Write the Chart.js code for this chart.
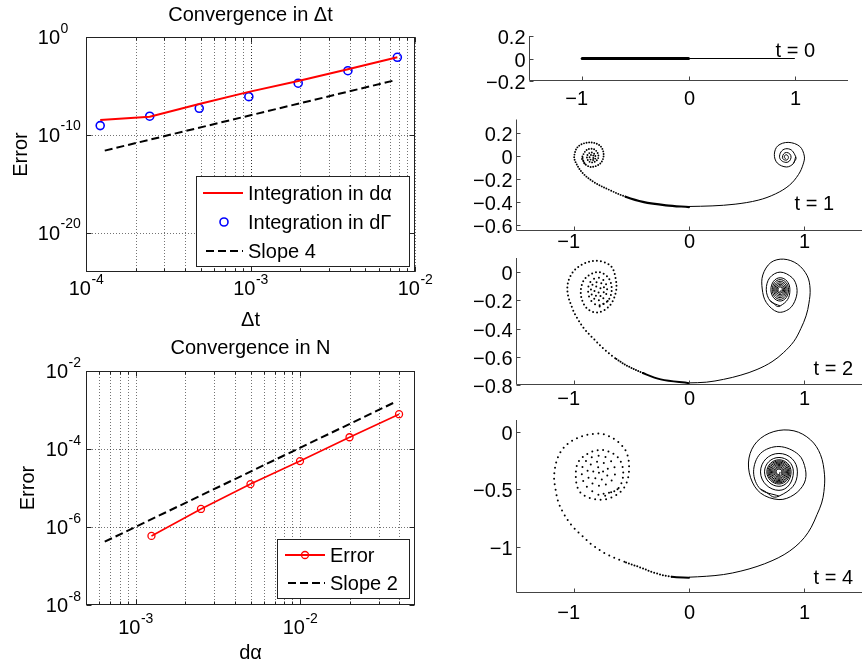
<!DOCTYPE html>
<html>
<head>
<meta charset="utf-8">
<script src="https://cdn.jsdelivr.net/npm/chart.js@4.4.1/dist/chart.umd.min.js"></script>
<style>
  body { margin: 0; background: #fff; }
  #page { position: relative; width: 862px; height: 667px; overflow: hidden; }
  #page canvas { position: absolute; left: 0; top: 0; }
</style>
</head>
<body>
<div id="page">
  <canvas id="cDt" width="862" height="667"></canvas>
  <canvas id="cN" width="862" height="667"></canvas>
  <canvas id="cT0" width="862" height="667"></canvas>
  <canvas id="cT1" width="862" height="667"></canvas>
  <canvas id="cT2" width="862" height="667"></canvas>
  <canvas id="cT4" width="862" height="667"></canvas>
</div>
<script>
// ── data: convergence in Δt ──────────────────────────────────────────────────
const dtSteps  = [1.22e-4, 2.44e-4, 4.88e-4, 9.77e-4, 1.95e-3, 3.91e-3, 7.81e-3];
const errAlpha = [3.4e-9, 7.1e-9, 1.45e-7, 2.5e-6, 3.2e-5, 5.0e-4, 8.5e-3];
const errGamma = [8.9e-10, 8.1e-9, 5.2e-8, 8.1e-7, 1.9e-5, 3.6e-4, 8.5e-3];
const slope4X  = [1.3e-4, 7.4e-3];
const slope4Y  = [2.5e-12, 3.5e-5];

const dtGridX   = [2e-4, 3e-4, 4e-4, 5e-4, 6e-4, 7e-4, 8e-4, 9e-4, 1e-3,
                   2e-3, 3e-3, 4e-3, 5e-3, 6e-3, 7e-3, 8e-3, 9e-3];
const dtGridY   = [1e-20, 1e-10];
const dtMajorX  = [1e-4, 1e-3, 1e-2];
const dtExpX    = ['-4', '-3', '-2'];
const dtMajorY  = [1, 1e-10, 1e-20];
const dtExpY    = ['0', '-10', '-20'];

// ── data: convergence in N ───────────────────────────────────────────────────
const dAlpha   = [1.25e-3, 2.5e-3, 5e-3, 1e-2, 2e-2, 4e-2];
const errN     = [5.9e-7, 2.9e-6, 1.26e-5, 4.9e-5, 2.0e-4, 7.8e-4];
const slope2X  = [6.5e-4, 3.73e-2];
const slope2Y  = [4.2e-7, 1.55e-3];

const nGridX   = [6e-4, 7e-4, 8e-4, 9e-4, 1e-3, 2e-3, 3e-3, 4e-3, 5e-3, 6e-3,
                  7e-3, 8e-3, 9e-3, 1e-2, 2e-2, 3e-2, 4e-2];
const nGridY   = [1e-6, 1e-4];
const nMajorX  = [1e-3, 1e-2];
const nExpX    = ['-3', '-2'];
const nMajorY  = [1e-8, 1e-6, 1e-4, 1e-2];
const nExpY    = ['-8', '-6', '-4', '-2'];

// ── data: sheet shapes (left half dotted, right half solid) ──────────────────
// "outer" = tail plus first loops, "core" = tight inner turns
const sheetL0 = [[-1, 0], [0, 0]];
const sheetR0 = [[0, 0], [1, 0]];

const sheetL1Outer = [[0, -0.445], [-0.2, -0.43], [-0.4, -0.40], [-0.55, -0.355],
  [-0.68, -0.30], [-0.82, -0.23], [-0.92, -0.15], [-0.98, -0.06], [-0.995, 0.0],
  [-0.96, 0.085], [-0.86, 0.12], [-0.77, 0.09], [-0.74, 0.015], [-0.765, -0.06],
  [-0.845, -0.095], [-0.905, -0.065], [-0.925, -0.005]];
const sheetL1Core = [[-0.905, -0.065], [-0.925, -0.005], [-0.85, 0.065], [-0.785, 0.0],
  [-0.84, -0.055], [-0.885, -0.01], [-0.845, 0.032], [-0.81, -0.01], [-0.84, -0.035],
  [-0.862, -0.012], [-0.842, 0.012], [-0.826, -0.01], [-0.84, -0.022]];
const sheetR1Outer = [[0, -0.44], [0.2, -0.435], [0.4, -0.42], [0.6, -0.385],
  [0.75, -0.33], [0.87, -0.255], [0.95, -0.16], [0.99, -0.07], [1.0, 0.0],
  [0.96, 0.085], [0.86, 0.12], [0.77, 0.09], [0.74, 0.015], [0.765, -0.06],
  [0.845, -0.095], [0.905, -0.065], [0.925, -0.005]];
const sheetR1Core = [[0.905, -0.065], [0.925, -0.005], [0.85, 0.065], [0.785, 0.0],
  [0.84, -0.055], [0.885, -0.01], [0.845, 0.032], [0.81, -0.01], [0.84, -0.035],
  [0.862, -0.012], [0.842, 0.012], [0.826, -0.01], [0.84, -0.022]];

const sheetL2Outer = [[0, -0.787], [-0.245, -0.76], [-0.4, -0.715], [-0.533, -0.665],
  [-0.64, -0.61], [-0.736, -0.546], [-0.83, -0.47], [-0.91, -0.40], [-0.97, -0.325],
  [-1.01, -0.26], [-1.053, -0.145], [-1.04, -0.05], [-0.966, 0.033], [-0.82, 0.08],
  [-0.68, 0.045], [-0.635, -0.05], [-0.635, -0.145], [-0.69, -0.24], [-0.79, -0.286],
  [-0.88, -0.26], [-0.93, -0.19], [-0.935, -0.11], [-0.895, -0.04], [-0.79, 0.0],
  [-0.7, -0.04], [-0.67, -0.125], [-0.705, -0.205], [-0.79, -0.24]];
const sheetL2Core = [[-0.705, -0.205], [-0.79, -0.24], [-0.875, -0.125], [-0.79, -0.04],
  [-0.71, -0.125], [-0.79, -0.2], [-0.85, -0.125], [-0.79, -0.07], [-0.735, -0.125],
  [-0.79, -0.175], [-0.82, -0.125], [-0.79, -0.1], [-0.765, -0.125], [-0.79, -0.145],
  [-0.79, -0.125]];
const sheetR2Outer = [[0, -0.785], [0.15, -0.78], [0.3, -0.76], [0.45, -0.73],
  [0.59, -0.69], [0.72, -0.635], [0.82, -0.57], [0.91, -0.49], [0.97, -0.40],
  [1.015, -0.31], [1.04, -0.22], [1.05, -0.12], [1.025, -0.026], [0.94, 0.057],
  [0.82, 0.092], [0.71, 0.068], [0.64, -0.02], [0.635, -0.12], [0.67, -0.215],
  [0.77, -0.283], [0.87, -0.26], [0.925, -0.19], [0.935, -0.11], [0.895, -0.04],
  [0.79, 0.0], [0.7, -0.04], [0.67, -0.125], [0.705, -0.205], [0.79, -0.24]];
const sheetR2Core = [[0.705, -0.205], [0.79, -0.24], [0.875, -0.125], [0.79, -0.04],
  [0.71, -0.125], [0.79, -0.205], [0.863, -0.125], [0.79, -0.053], [0.722, -0.125],
  [0.79, -0.193], [0.851, -0.125], [0.79, -0.065], [0.734, -0.125], [0.79, -0.181],
  [0.84, -0.125], [0.79, -0.076], [0.744, -0.125], [0.79, -0.17], [0.83, -0.125],
  [0.79, -0.086], [0.754, -0.125], [0.79, -0.16], [0.82, -0.125], [0.79, -0.096],
  [0.763, -0.125], [0.79, -0.15], [0.81, -0.125], [0.79, -0.105], [0.772, -0.125],
  [0.79, -0.142], [0.8, -0.125]];

const sheetL4Outer = [[0, -1.268], [-0.15, -1.26], [-0.3, -1.225], [-0.418, -1.18],
  [-0.56, -1.13], [-0.707, -1.067], [-0.83, -0.99], [-0.938, -0.894], [-1.02, -0.81],
  [-1.082, -0.72], [-1.13, -0.62], [-1.154, -0.519], [-1.169, -0.375], [-1.126, -0.2],
  [-1.024, -0.087], [-0.851, -0.023], [-0.707, -0.034], [-0.563, -0.144], [-0.52, -0.288],
  [-0.548, -0.461], [-0.649, -0.562], [-0.793, -0.59], [-0.938, -0.533], [-0.981, -0.403],
  [-0.95, -0.25], [-0.78, -0.16], [-0.62, -0.22], [-0.57, -0.36], [-0.62, -0.5],
  [-0.78, -0.55]];
const sheetL4Core = [[-0.62, -0.5], [-0.78, -0.55], [-0.93, -0.35], [-0.78, -0.21],
  [-0.64, -0.35], [-0.78, -0.47], [-0.88, -0.35], [-0.78, -0.26], [-0.7, -0.35],
  [-0.78, -0.42], [-0.83, -0.35], [-0.78, -0.31], [-0.745, -0.35], [-0.78, -0.37],
  [-0.78, -0.35]];
const sheetR4Outer = [[0, -1.263], [0.15, -1.255], [0.3, -1.24], [0.45, -1.21],
  [0.59, -1.17], [0.72, -1.12], [0.825, -1.067], [0.92, -1.0], [1.0, -0.92],
  [1.06, -0.83], [1.11, -0.72], [1.15, -0.62], [1.17, -0.52], [1.175, -0.375],
  [1.14, -0.2], [1.054, -0.072], [0.91, 0.006], [0.736, 0.0], [0.59, -0.087],
  [0.52, -0.23], [0.534, -0.40], [0.62, -0.533], [0.78, -0.59], [0.91, -0.548],
  [1.0, -0.446], [1.01, -0.33], [0.95, -0.2], [0.78, -0.13], [0.62, -0.19],
  [0.56, -0.35], [0.62, -0.5], [0.78, -0.56]];
const sheetR4Core = [[0.62, -0.5], [0.78, -0.56], [0.94, -0.35], [0.78, -0.19],
  [0.62, -0.35], [0.78, -0.51], [0.905, -0.35], [0.78, -0.225], [0.655, -0.35],
  [0.78, -0.475], [0.885, -0.35], [0.78, -0.245], [0.675, -0.35], [0.78, -0.455],
  [0.875, -0.35], [0.78, -0.255], [0.685, -0.35], [0.78, -0.445],
  [0.865, -0.35], [0.78, -0.265], [0.695, -0.35], [0.78, -0.435],
  [0.855, -0.35], [0.78, -0.275], [0.705, -0.35], [0.78, -0.425],
  [0.845, -0.35], [0.78, -0.285], [0.715, -0.35], [0.78, -0.415],
  [0.835, -0.35], [0.78, -0.295], [0.725, -0.35], [0.78, -0.405],
  [0.825, -0.35], [0.78, -0.305], [0.735, -0.35], [0.78, -0.395],
  [0.815, -0.35], [0.78, -0.315], [0.745, -0.35], [0.78, -0.385],
  [0.805, -0.35], [0.78, -0.325], [0.755, -0.35], [0.78, -0.375],
  [0.79, -0.35]];

const sheetXTicks = [-1, 0, 1];

// ── helpers ──────────────────────────────────────────────────────────────────
const FONT = '"Liberation Sans", Arial, Helvetica, sans-serif';
const W = 862, H = 667;

// text whose cap height is centred on y
function label(ctx, s, x, y, size, align = 'center') {
  ctx.font = `${size}px ${FONT}`;
  ctx.textAlign = align;
  ctx.textBaseline = 'alphabetic';
  ctx.fillStyle = '#000';
  ctx.fillText(s, x, y + size * 0.36);
}

// "10" with a raised exponent; 'center' centres the whole, 'base' puts the 10's right edge at x
function pow10(ctx, exp, x, y, align) {
  ctx.font = `20px ${FONT}`;
  const wb = ctx.measureText('10').width;
  ctx.font = `14px ${FONT}`;
  const we = ctx.measureText(exp).width;
  const x0 = align === 'center' ? x - (wb + we) / 2 : x - wb;
  label(ctx, '10', x0, y, 20, 'left');
  label(ctx, exp, x0 + wb + 0.5, y - 9.5, 14, 'left');
}

// centre the digits on x and let a leading minus hang out to the left
function tickNum(ctx, s, x, y) {
  ctx.font = `20px ${FONT}`;
  const wb = ctx.measureText(s.replace('−', '')).width;
  label(ctx, s, x + wb / 2, y, 20, 'right');
}

function seg(ctx, x1, y1, x2, y2) {
  ctx.beginPath();
  ctx.moveTo(x1, y1);
  ctx.lineTo(x2, y2);
  ctx.stroke();
}

function pad(area) {
  return { left: area.l, top: area.t, right: W - area.r, bottom: H - area.b };
}

function xy(xs, ys) {
  return xs.map((x, i) => ({ x, y: ys[i] }));
}

function baseOptions(area, xr, yr, type) {
  return {
    responsive: false,
    animation: false,
    devicePixelRatio: 1,
    events: [],
    layout: { padding: pad(area) },
    plugins: { legend: { display: false }, tooltip: { enabled: false } },
    scales: {
      x: { type, min: xr[0], max: xr[1], display: false },
      y: { type, min: yr[0], max: yr[1], display: false },
    },
  };
}

// ── log-log panels ───────────────────────────────────────────────────────────
function logFrame(cfg) {
  return {
    id: 'logFrame',
    beforeDatasetsDraw(chart) {
      const { ctx, chartArea: a, scales: { x, y } } = chart;
      ctx.save();
      ctx.strokeStyle = 'rgba(0,0,0,0.55)';
      ctx.lineWidth = 1;
      ctx.setLineDash([1, 2]);
      cfg.gridX.forEach((v) => {
        const px = Math.round(x.getPixelForValue(v)) + 0.5;
        seg(ctx, px, a.top, px, a.bottom);
      });
      cfg.gridY.forEach((v) => {
        const py = Math.round(y.getPixelForValue(v)) + 0.5;
        seg(ctx, a.left, py, a.right, py);
      });
      ctx.restore();
    },
    afterDatasetsDraw(chart) {
      const { ctx, chartArea: a, scales: { x, y } } = chart;
      ctx.save();
      ctx.strokeStyle = '#222';
      ctx.lineWidth = 1;
      const L = Math.round(a.left) + 0.5, R = Math.round(a.right) - 0.5;
      const T = Math.round(a.top) + 0.5, B = Math.round(a.bottom) - 0.5;
      ctx.strokeRect(L, T, R - L, B - T);

      // inward ticks
      cfg.gridX.forEach((v) => {
        const px = Math.round(x.getPixelForValue(v)) + 0.5;
        const len = cfg.majorX.includes(v) ? 5 : 3;
        seg(ctx, px, B, px, B - len);
        seg(ctx, px, T, px, T + len);
      });
      cfg.majorY.forEach((v) => {
        const py = Math.round(y.getPixelForValue(v)) + 0.5;
        seg(ctx, L, py, L + 5, py);
        seg(ctx, R, py, R - 5, py);
      });

      // tick labels
      cfg.majorX.forEach((v, i) => pow10(ctx, cfg.expX[i], x.getPixelForValue(v), cfg.xLabelY, 'center'));
      cfg.majorY.forEach((v, i) => pow10(ctx, cfg.expY[i], cfg.yBaseRight, y.getPixelForValue(v), 'base'));

      // title and axis names
      const cx = (a.left + a.right) / 2;
      label(ctx, cfg.title, cx, cfg.titleY, 20);
      label(ctx, cfg.xName, cx, cfg.xNameY, 20);
      ctx.save();
      ctx.translate(cfg.yNameX, (a.top + a.bottom) / 2);
      ctx.rotate(-Math.PI / 2);
      label(ctx, 'Error', 0, 0, 20);
      ctx.restore();

      // legend
      const lg = cfg.legend;
      ctx.fillStyle = '#fff';
      ctx.fillRect(lg.l, lg.t, lg.r - lg.l, lg.b - lg.t);
      ctx.strokeStyle = '#222';
      ctx.strokeRect(lg.l + 0.5, lg.t + 0.5, lg.r - lg.l, lg.b - lg.t);
      lg.items.forEach((it) => {
        if (it.line) {
          ctx.save();
          ctx.strokeStyle = it.color;
          ctx.lineWidth = 2;
          ctx.setLineDash(it.dash || []);
          seg(ctx, it.x1, it.y, it.x2, it.y);
          ctx.restore();
        }
        if (it.marker) {
          ctx.save();
          ctx.strokeStyle = it.color;
          ctx.lineWidth = it.markerWidth;
          ctx.beginPath();
          ctx.arc(it.mx, it.y, it.r, 0, Math.PI * 2);
          ctx.stroke();
          ctx.restore();
        }
        label(ctx, it.text, lg.textX, it.y, 20, 'left');
      });
      ctx.restore();
    },
  };
}

function renderDtChart() {
  new Chart(document.getElementById('cDt'), {
    type: 'line',
    data: {
      datasets: [
        { data: xy(dtSteps, errAlpha), borderColor: '#ff0000', borderWidth: 2, pointRadius: 0 },
        { data: xy(dtSteps, errGamma), showLine: false, pointRadius: 4, pointBorderWidth: 1.6,
          pointBorderColor: '#0000ff', pointBackgroundColor: 'rgba(0,0,0,0)' },
        { data: xy(slope4X, slope4Y), borderColor: '#000', borderWidth: 2, borderDash: [8, 4], pointRadius: 0 },
      ],
    },
    options: baseOptions({ l: 86, t: 37, r: 415, b: 272 }, [1e-4, 1e-2], [1e-24, 1], 'logarithmic'),
    plugins: [logFrame({
      gridX: dtGridX.concat(dtMajorX), gridY: dtGridY,
      majorX: dtMajorX, expX: dtExpX, majorY: dtMajorY, expY: dtExpY,
      xLabelY: 288, yBaseRight: 60,
      title: 'Convergence in Δt', titleY: 14,
      xName: 'Δt', xNameY: 319, yNameX: 20,
      legend: {
        l: 196, t: 176, r: 409, b: 266, textX: 248,
        items: [
          { text: 'Integration in dα', y: 193, line: true, color: '#ff0000', x1: 203, x2: 243 },
          { text: 'Integration in dΓ', y: 222, marker: true, color: '#0000ff', mx: 224, r: 4, markerWidth: 1.6 },
          { text: 'Slope 4', y: 251, line: true, color: '#000', dash: [8, 4], x1: 206, x2: 243 },
        ],
      },
    })],
  });
}

function renderNChart() {
  new Chart(document.getElementById('cN'), {
    type: 'line',
    data: {
      datasets: [
        { data: xy(dAlpha, errN), borderColor: '#ff0000', borderWidth: 1.6, pointRadius: 3.5,
          pointBorderWidth: 1.3, pointBorderColor: '#ff0000', pointBackgroundColor: 'rgba(0,0,0,0)' },
        { data: xy(slope2X, slope2Y), borderColor: '#000', borderWidth: 2, borderDash: [8, 4], pointRadius: 0 },
      ],
    },
    options: baseOptions({ l: 86, t: 371, r: 415, b: 605 }, [5e-4, 5e-2], [1e-8, 1e-2], 'logarithmic'),
    plugins: [logFrame({
      gridX: nGridX, gridY: nGridY,
      majorX: nMajorX, expX: nExpX, majorY: nMajorY, expY: nExpY,
      xLabelY: 627, yBaseRight: 68,
      title: 'Convergence in N', titleY: 347,
      xName: 'dα', xNameY: 652, yNameX: 27,
      legend: {
        l: 277, t: 539, r: 409, b: 598, textX: 330,
        items: [
          { text: 'Error', y: 555, line: true, color: '#ff0000', x1: 285, x2: 325,
            marker: true, mx: 305, r: 3.5, markerWidth: 1.3 },
          { text: 'Slope 2', y: 583, line: true, color: '#000', dash: [8, 4], x1: 288, x2: 325 },
        ],
      },
    })],
  });
}

// ── sheet panels ─────────────────────────────────────────────────────────────
function sheetFrame(cfg) {
  return {
    id: 'sheetFrame',
    afterDatasetsDraw(chart) {
      const { ctx, chartArea: a, scales: { x, y } } = chart;
      ctx.save();
      ctx.strokeStyle = '#444';
      ctx.lineWidth = 1;
      const L = Math.round(a.left) + 0.5, B = Math.round(a.bottom) - 0.5;
      seg(ctx, L, a.top, L, B);
      seg(ctx, L, B, a.right, B);
      sheetXTicks.forEach((v) => {
        const px = Math.round(x.getPixelForValue(v)) + 0.5;
        seg(ctx, px, B, px, B - 4);
        tickNum(ctx, v < 0 ? '−' + Math.abs(v) : String(v), px, cfg.xLabelY);
      });
      cfg.yTicks.forEach((v, i) => {
        const py = Math.round(y.getPixelForValue(v)) + 0.5;
        seg(ctx, L, py, L + 4, py);
        label(ctx, cfg.yLabels[i], L - 4, py, 20, 'right');
      });
      label(ctx, cfg.tag, cfg.tagRight, cfg.tagY, 20, 'right');
      ctx.restore();
    },
  };
}

// dotted half: style picked from |x| of the segment start
function dotted(data, styleAt, tension) {
  return {
    data, borderColor: '#000', borderWidth: 2, pointRadius: 0, tension,
    borderCapStyle: 'round',
    segment: {
      borderDash: (c) => styleAt(Math.abs(data[c.p0DataIndex][0])).dash,
      borderWidth: (c) => styleAt(Math.abs(data[c.p0DataIndex][0])).width,
    },
  };
}

function solid(data, tension) {
  return { data, borderColor: '#000', borderWidth: 1, pointRadius: 0, tension };
}

function renderSheet(id, area, yr, datasets, cfg) {
  new Chart(document.getElementById(id), {
    type: 'line',
    data: { datasets },
    options: baseOptions(area, [-1.5, 1.5], yr, 'linear'),
    plugins: [sheetFrame(cfg)],
  });
}

function renderSheets() {
  renderSheet('cT0', { l: 529, t: 36, r: 848, b: 81 }, [-0.2, 0.2],
    [dotted(sheetL0, () => ({ dash: [], width: 3 }), 0), solid(sheetR0, 0)],
    { yTicks: [0.2, 0, -0.2], yLabels: ['0.2', '0', '−0.2'], xLabelY: 98, tag: 't = 0', tagRight: 815, tagY: 50 });

  const dots1 = (ax) => (ax < 0.45 ? { dash: [], width: 2.2 } : { dash: [0, 2.6], width: 1.9 });
  renderSheet('cT1', { l: 516, t: 119.5, r: 862, b: 230.5 }, [-0.65, 0.32],
    [dotted(sheetL1Outer, dots1, 0.35), dotted(sheetL1Core, () => ({ dash: [0, 2.6], width: 1.9 }), 0.55),
     solid(sheetR1Outer, 0.35), solid(sheetR1Core, 0.55)],
    { yTicks: [0.2, 0, -0.2, -0.4, -0.6], yLabels: ['0.2', '0', '−0.2', '−0.4', '−0.6'],
      xLabelY: 241, tag: 't = 1', tagRight: 834, tagY: 202.5 });

  const dots2 = (ax) => (ax < 0.25 ? { dash: [], width: 2 } : ax < 0.55 ? { dash: [0, 2.5], width: 2 } : { dash: [0, 4], width: 2 });
  renderSheet('cT2', { l: 516, t: 258, r: 862, b: 385 }, [-0.8, 0.1],
    [dotted(sheetL2Outer, dots2, 0.35), dotted(sheetL2Core, () => ({ dash: [0, 5], width: 2 }), 0.55),
     solid(sheetR2Outer, 0.35), solid(sheetR2Core, 0.55)],
    { yTicks: [0, -0.2, -0.4, -0.6, -0.8], yLabels: ['0', '−0.2', '−0.4', '−0.6', '−0.8'],
      xLabelY: 398, tag: 't = 2', tagRight: 853, tagY: 368 });

  const dots4 = (ax) => (ax < 0.15 ? { dash: [], width: 2 } : ax < 0.45 ? { dash: [0, 3], width: 2 } : { dash: [0, 5.5], width: 2 });
  renderSheet('cT4', { l: 516, t: 420, r: 862, b: 593 }, [-1.4, 0.1],
    [dotted(sheetL4Outer, dots4, 0.35), dotted(sheetL4Core, () => ({ dash: [0, 7], width: 2 }), 0.55),
     solid(sheetR4Outer, 0.35), solid(sheetR4Core, 0.55)],
    { yTicks: [0, -0.5, -1], yLabels: ['0', '−0.5', '−1'],
      xLabelY: 611.5, tag: 't = 4', tagRight: 853, tagY: 577 });
}

// ── boot ─────────────────────────────────────────────────────────────────────
function init() {
  renderDtChart();
  renderNChart();
  renderSheets();
}

init();
</script>
</body>
</html>
